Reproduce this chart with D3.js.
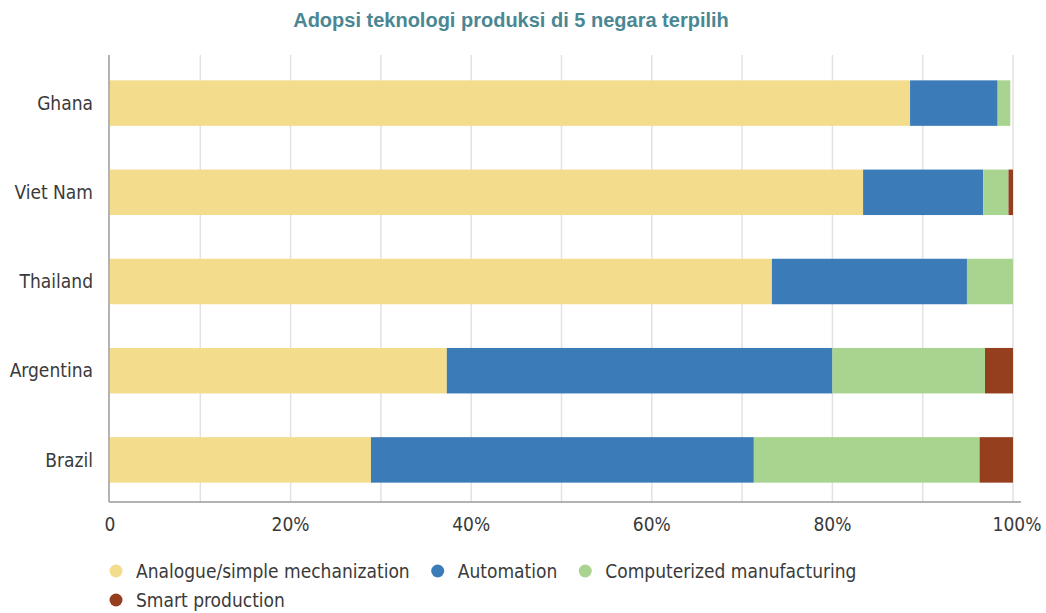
<!DOCTYPE html>
<html>
<head>
<meta charset="utf-8">
<script src="https://cdn.jsdelivr.net/npm/d3@7.9.0/dist/d3.min.js"></script>
<style>
  body { margin: 0; background: #fff; }
  svg { display: block; }
  .lbl { font-family: "Liberation Sans Narrow", "DejaVu Sans Condensed", "Roboto", sans-serif; font-size: 19px; fill: #3a3a3a; }
</style>
</head>
<body>
<svg id="chart" width="1046" height="613"></svg>
<script>
// categories and series (percent of firms)
const countries = ['Ghana', 'Viet Nam', 'Thailand', 'Argentina', 'Brazil'];
const seriesNames = ['Analogue/simple mechanization', 'Automation', 'Computerized manufacturing', 'Smart production'];
const analogue     = [88.6, 83.4, 73.3, 37.3, 28.9];
const automation   = [9.7, 13.3, 21.6, 42.7, 42.4];
const computerized = [1.4, 2.8, 5.1, 16.9, 25.0];
const smart        = [0.0, 0.5, 0.0, 3.1, 3.7];
const xTicks = [0, 20, 40, 60, 80, 100];
const colors = ['#f4dc8d', '#3b7bb8', '#a8d48f', '#953f1f'];

const svg = d3.select('#chart');

// table for d3.stack
const rows = countries.map((c, i) => ({
  country: c,
  [seriesNames[0]]: analogue[i],
  [seriesNames[1]]: automation[i],
  [seriesNames[2]]: computerized[i],
  [seriesNames[3]]: smart[i]
}));
const stacked = d3.stack().keys(seriesNames)(rows);

const x = d3.scaleLinear().domain([0, 100]).range([110, 1013]);
const y = d3.scaleBand().domain(countries).range([58.5, 504.5]).paddingInner(0.49).paddingOuter(0.245);
const color = d3.scaleOrdinal().domain(seriesNames).range(colors);

// title
svg.append('text')
  .attr('x', 511).attr('y', 27)
  .attr('text-anchor', 'middle')
  .attr('font-family', 'Liberation Sans, Arial, sans-serif')
  .attr('font-weight', 'bold')
  .attr('font-size', 20)
  .attr('fill', '#4a8793')
  .text('Adopsi teknologi produksi di 5 negara terpilih');

// gridlines every 10%
const gridTop = 55, gridBottom = 502;
svg.append('g')
  .selectAll('line')
  .data(d3.range(10, 101, 10))
  .join('line')
  .attr('x1', d => x(d)).attr('x2', d => x(d))
  .attr('y1', gridTop).attr('y2', gridBottom)
  .attr('stroke', '#e2e2e2')
  .attr('stroke-width', 1.5);

// bars
svg.append('g')
  .selectAll('g')
  .data(stacked)
  .join('g')
  .attr('fill', d => color(d.key))
  .selectAll('rect')
  .data(d => d)
  .join('rect')
  .attr('x', d => x(d[0]))
  .attr('width', d => Math.max(0, x(d[1]) - x(d[0])))
  .attr('y', d => y(d.data.country))
  .attr('height', y.bandwidth());

// axes lines
svg.append('line')
  .attr('x1', 109).attr('x2', 109).attr('y1', gridTop).attr('y2', gridBottom)
  .attr('stroke', '#9a9a9a').attr('stroke-width', 1.5);
svg.append('line')
  .attr('x1', 109).attr('x2', 1021).attr('y1', gridBottom).attr('y2', gridBottom)
  .attr('stroke', '#9a9a9a').attr('stroke-width', 1.5);

// x tick labels
svg.append('g')
  .selectAll('text')
  .data(xTicks)
  .join('text')
  .attr('class', 'lbl')
  .attr('x', d => x(d) + (d === 100 ? 4 : 0))
  .attr('y', 531)
  .attr('text-anchor', 'middle')
  .text(d => d === 0 ? '0' : d + '%');

// y labels
svg.append('g')
  .selectAll('text')
  .data(countries)
  .join('text')
  .attr('class', 'lbl')
  .attr('x', 93)
  .attr('y', d => y(d) + y.bandwidth() / 2)
  .attr('dy', '0.35em')
  .attr('text-anchor', 'end')
  .text(d => d);

// legend (flows, wraps to a second line)
const legend = svg.append('g');
let lx = 116, ly = 571;
seriesNames.forEach((name, i) => {
  const item = legend.append('g');
  item.append('circle').attr('r', 6.5).attr('fill', colors[i]);
  const t = item.append('text').attr('class', 'lbl').attr('x', 20).attr('dy', '0.35em').text(name);
  const w = t.node().getComputedTextLength() + 20;
  if (lx + w > 900) { lx = 116; ly += 29; }
  item.attr('transform', `translate(${lx},${ly})`);
  lx += w + 28;
});
</script>
</body>
</html>
